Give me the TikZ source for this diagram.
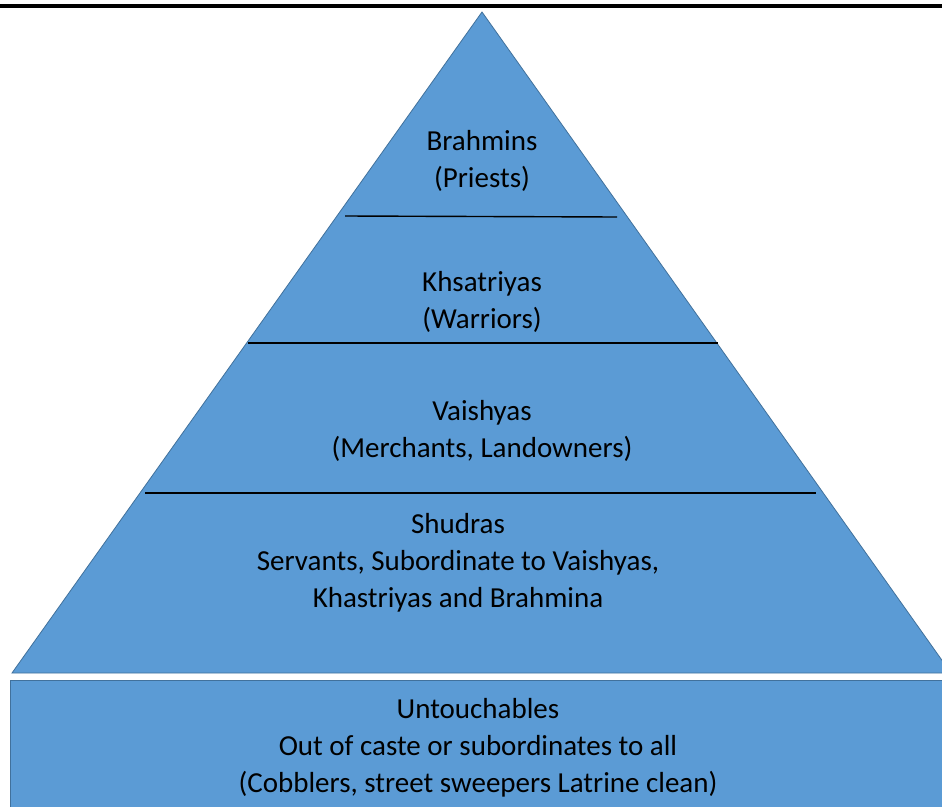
\documentclass[tikz,border=0pt]{standalone}
\usepackage{fontspec}
\setmainfont{Carlito}
\usetikzlibrary{positioning}

\definecolor{tierblue}{RGB}{91,155,213}
\definecolor{tieredge}{RGB}{65,113,156}

\begin{document}
\begin{tikzpicture}
                [x=1pt,y=-1pt,
                 tier/.style={fill=tierblue,draw=tieredge,line width=0.8pt},
                 divider/.style={black,line width=1.4pt},
                 caste/.style={align=center,font=\fontsize{29}{37}\selectfont}]

                \clip (0,0) rectangle (942,806);
                \fill[white] (0,0) rectangle (942,806);
                \fill[black] (0,3.5) rectangle (942,7.5);

                % pyramid and bottom block
                \draw[tier] (482,12) -- (951,673) -- (12,673) -- cycle;
                \draw[tier] (10,680) rectangle (960,820);

                \draw[divider] (345,216) -- (617,217);
                \draw[divider] (248,343) -- (718,343);
                \draw[divider] (145,493) -- (816,493);

                \node[caste] (brahmins)     at (482,161)   {Brahmins\\(Priests)};
                \node[caste] (khsatriyas)   at (482,301.5) {Khsatriyas\\(Warriors)};
                \node[caste] (vaishyas)     at (482,431)   {Vaishyas\\(Merchants, Landowners)};
                \node[caste] (shudras)      at (458,563)   {Shudras\\Servants, Subordinate to Vaishyas,\\Khastriyas and Brahmina};
                \node[caste] (untouchables) at (478,747.5) {Untouchables\\Out of caste or subordinates to all\\(Cobblers, street sweepers Latrine clean)};

            \end{tikzpicture}
\end{document}
